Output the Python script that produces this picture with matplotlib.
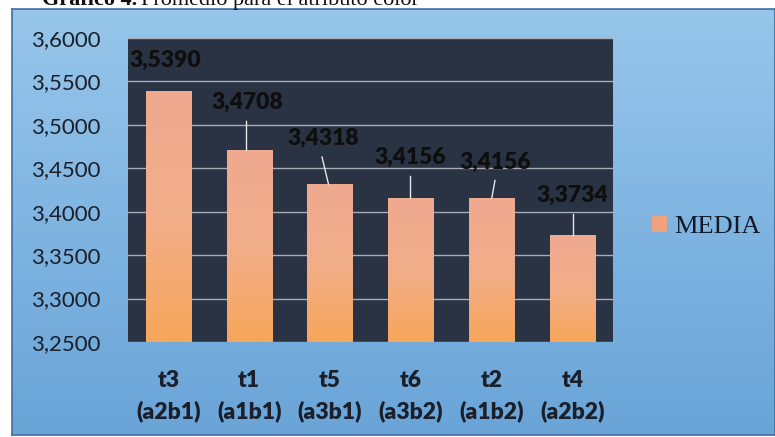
import matplotlib.pyplot as plt
import numpy as np
from matplotlib.colors import LinearSegmentedColormap
from matplotlib.patches import Patch

tratamientos = ['t3\n(a2b1)', 't1\n(a1b1)', 't5\n(a3b1)', 't6\n(a3b2)', 't2\n(a1b2)', 't4\n(a2b2)']
media = [3.5390, 3.4708, 3.4318, 3.4156, 3.4156, 3.3734]
# where each value label sits (x offset from bar centre, y in data units)
etiqueta_dx = [-0.04, -0.02, -0.09, -0.01, 0.04, 0.0]
etiqueta_y = [3.5747, 3.5263, 3.4849, 3.4630, 3.4572, 3.4192]
# leader lines: start (dx, y) near the label, end on top of the bar
guia_dx = [None, -0.04, -0.10, -0.01, 0.04, 0.0]
guia_ini = [None, 3.5044, 3.4630, 3.4410, 3.4360, 3.3974]
guia_fin_dx = [None, -0.04, -0.02, -0.01, 0.0, 0.0]

fig = plt.figure(figsize=(7.75, 4.37), dpi=100)
fig.patch.set_facecolor('white')

# blue chart frame with a soft vertical gradient
bg = fig.add_axes([12 / 775, 2 / 437, 1 - 12 / 775, (437 - 11) / 437])
azul = LinearSegmentedColormap.from_list('azul', ['#6aa4d7', '#80b5e2', '#97c6ea'])
bg.imshow(np.linspace(0, 1, 256).reshape(-1, 1), cmap=azul, aspect='auto',
          origin='lower', extent=(0, 1, 0, 1))
bg.set_xlim(0, 1)
bg.set_ylim(0, 1)
bg.set_xticks([])
bg.set_yticks([])
for s in bg.spines.values():
    s.set_color('#3d6f9e')
    s.set_linewidth(1.2)

# title line, cut at the top edge
fig.text(0.054, 1 - 5 / 437, 'Gráfico 4.', family='Liberation Serif', fontsize=16,
         fontweight='bold', color='#111111', va='baseline', zorder=10)
fig.text(0.182, 1 - 5 / 437, 'Promedio para el atributo color', family='Liberation Serif',
         fontsize=16, color='#111111', va='baseline', zorder=10)

ax = fig.add_axes([128 / 775, 1 - 342 / 437, (613 - 128) / 775, (342 - 38) / 437])
ax.set_facecolor('#2a3343')
x = np.arange(len(media))
ax.set_axisbelow(True)
ax.grid(axis='y', color='#c9ccd2', linewidth=1.0, alpha=0.8)

naranja = LinearSegmentedColormap.from_list('naranja', ['#f7a65a', '#f2ae8a', '#efa98f'])
barras = ax.bar(x, np.array(media) - 3.25, bottom=3.25, width=0.56,
                color='#f2ac84', zorder=2)
grad = np.linspace(0, 1, 128).reshape(-1, 1)
for b, v in zip(barras, media):
    im = ax.imshow(grad, cmap=naranja, aspect='auto', origin='lower',
                   extent=(b.get_x(), b.get_x() + b.get_width(), 3.25, v), zorder=3)
    im.set_clip_path(b)

for i, v in enumerate(media):
    ax.text(i + etiqueta_dx[i], etiqueta_y[i], f'{v:.4f}'.replace('.', ','),
            ha='center', va='center', family='Lato', fontweight='heavy',
            fontsize=16.5, color='#0e0e0e', zorder=5)
    if guia_ini[i] is not None:
        ax.plot([i + guia_dx[i], i + guia_fin_dx[i]], [guia_ini[i], v],
                color='#e6e6e6', linewidth=1.0, zorder=4)

ax.set_xlim(-0.5, len(media) - 0.5)
ax.set_ylim(3.25, 3.60)
ax.set_yticks(np.arange(3.25, 3.6001, 0.05))
ax.set_yticklabels([f'{t:.4f}'.replace('.', ',') for t in np.arange(3.25, 3.6001, 0.05)],
                   family='Lato', fontsize=16, color='#1a1f2a')
ax.set_xticks(x)
ax.set_xticklabels(tratamientos, family='Lato', fontweight='heavy', fontsize=16.5,
                   color='#1a1f2a', linespacing=1.55)
ax.tick_params(axis='y', length=0, pad=20)
ax.tick_params(axis='x', length=0, pad=20)
for s in ax.spines.values():
    s.set_visible(False)

fig.legend(handles=[Patch(facecolor='#f0a27c', edgecolor='none')], labels=['MEDIA'],
           loc='center left', bbox_to_anchor=(0.81, 1 - 227 / 437), frameon=False,
           prop={'family': 'Liberation Serif', 'size': 19}, handlelength=0.6,
           handleheight=0.6, handletextpad=0.25, labelcolor='#111a2a')

fig.savefig('out.png', dpi=100)
